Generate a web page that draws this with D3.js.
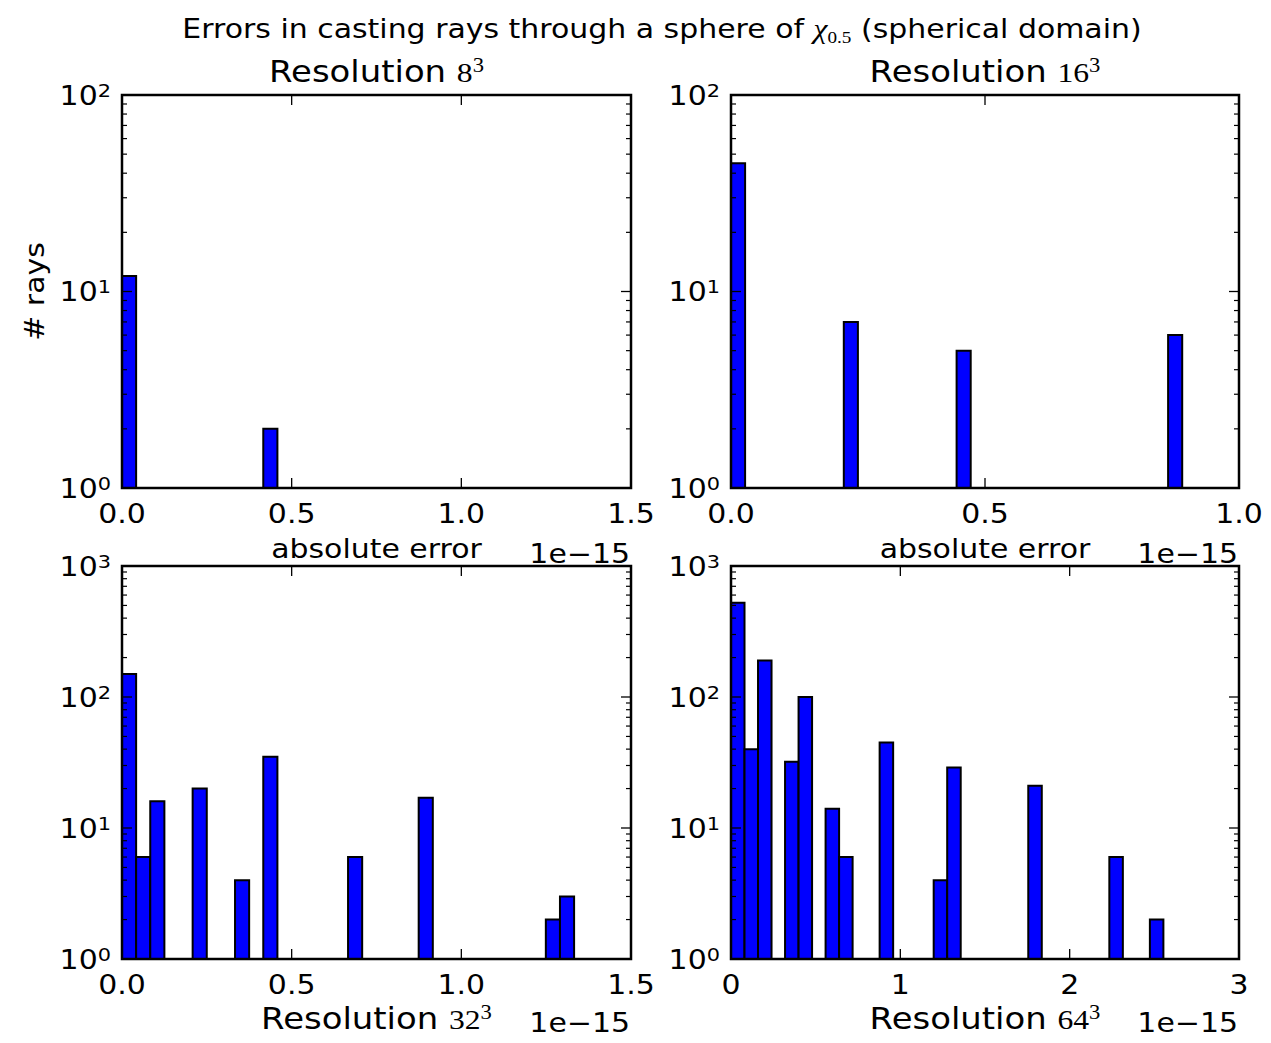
<!DOCTYPE html>
<html>
<head>
<meta charset="utf-8">
<script src="https://cdn.jsdelivr.net/npm/d3@7"></script>
<style>
  body { margin: 0; background: #fff; }
  text { font-family: "DejaVu Sans", sans-serif; fill: #000; }
</style>
</head>
<body>
<script>
// Ray-casting error histograms: counts per error bin (errors in units of 1e-15).
const resolutions = ["8", "16", "32", "64"];
const nBins = 32;
const maxError = [1.3323, 0.8882, 1.3323, 2.5535];

const binIndex8 = [0, 10, 21, 31];
const counts8 = [12, 2, 1, 1];
const binIndex16 = [0, 8, 16, 24, 31];
const counts16 = [45, 7, 5, 1, 6];
const binIndex32 = [0, 1, 2, 5, 8, 10, 16, 21, 30, 31];
const counts32 = [150, 6, 16, 20, 4, 35, 6, 17, 2, 3];
const binIndex64 = [0, 1, 2, 4, 5, 7, 8, 9, 10, 11, 15, 16, 18, 22, 28, 31];
const counts64 = [525, 40, 190, 32, 100, 14, 6, 1, 1, 45, 4, 29, 1, 21, 6, 2];

const xTicksHalf = [0, 0.5, 1.0, 1.5];
const xTicks16 = [0, 0.5, 1.0];
const xTicks64 = [0, 1, 2, 3];
const yTicksTop = [1, 10, 100];
const yTicksBottom = [1, 10, 100, 1000];

const W = 1271, H = 1043;
const SX = 1.13;          // horizontal text stretch
const FS = 26.5;          // tick / label size
const FT = 30;            // title size
const SERIF = "'Liberation Serif', 'DejaVu Serif', serif";

const svg = d3.select("body").append("svg").attr("width", W).attr("height", H);

function addText(g, x, y, anchor, size, parts, rotate) {
  const t = g.append("text")
    .attr("transform", `translate(${x},${y})` + (rotate ? ` rotate(${rotate})` : "") + ` scale(${SX},1)`)
    .attr("text-anchor", anchor)
    .style("font-size", size + "px");
  parts.forEach(p => {
    const s = t.append("tspan").text(p.t);
    if (p.size) s.style("font-size", p.size + "px");
    if (p.dy) s.attr("dy", p.dy);
    if (p.family) s.style("font-family", p.family);
    if (p.italic) s.style("font-style", "italic");
  });
  return t;
}

const panels = [
  { r: 0, bins: binIndex8,  counts: counts8,  xMax: 1.5, xTicks: xTicksHalf, fmt: d3.format(".1f"), yTicks: yTicksTop,    box: [122, 95, 631, 488] },
  { r: 1, bins: binIndex16, counts: counts16, xMax: 1.0, xTicks: xTicks16,   fmt: d3.format(".1f"), yTicks: yTicksTop,    box: [731, 95, 1239, 488] },
  { r: 2, bins: binIndex32, counts: counts32, xMax: 1.5, xTicks: xTicksHalf, fmt: d3.format(".1f"), yTicks: yTicksBottom, box: [122, 566, 631, 959] },
  { r: 3, bins: binIndex64, counts: counts64, xMax: 3,   xTicks: xTicks64,   fmt: d3.format("d"),   yTicks: yTicksBottom, box: [731, 566, 1239, 959] }
];

panels.forEach((p, i) => {
  const [x0, y0, x1, y1] = p.box;
  const g = svg.append("g");
  const xs = d3.scaleLinear().domain([0, p.xMax]).range([x0, x1]);
  const yMax = p.yTicks[p.yTicks.length - 1];
  const ys = d3.scaleLog().domain([1, yMax]).range([y1, y0]);
  const bw = maxError[p.r] / nBins;

  // bars
  const bars = p.bins.map((b, k) => ({ lo: b * bw, hi: (b + 1) * bw, n: p.counts[k] }));
  g.selectAll("path.bar").data(bars).enter().append("path")
    .attr("class", "bar")
    .attr("d", d => `M${xs(d.lo)},${ys(1)}V${ys(d.n)}H${xs(d.hi)}V${ys(1)}Z`)
    .attr("fill", "#0000ff")
    .attr("stroke", "#000")
    .attr("stroke-width", 2)
    .attr("stroke-linejoin", "miter");

  // x ticks (bottom & top, inward)
  p.xTicks.forEach(t => {
    const x = xs(t);
    g.append("line").attr("x1", x).attr("x2", x).attr("y1", y1).attr("y2", y1 - 10)
      .attr("stroke", "#000").attr("stroke-width", 1.3);
    g.append("line").attr("x1", x).attr("x2", x).attr("y1", y0).attr("y2", y0 + 10)
      .attr("stroke", "#000").attr("stroke-width", 1.3);
    addText(g, x, y1 + 35, "middle", FS, [{ t: p.fmt(t) }]);
  });

  // y ticks: majors and log minors on both sides
  const decades = Math.round(Math.log10(yMax));
  for (let k = 0; k < decades; k++) {
    for (let m = 2; m <= 9; m++) {
      const y = ys(m * Math.pow(10, k));
      g.append("line").attr("x1", x0).attr("x2", x0 + 5).attr("y1", y).attr("y2", y)
        .attr("stroke", "#000").attr("stroke-width", 1.2);
      g.append("line").attr("x1", x1).attr("x2", x1 - 5).attr("y1", y).attr("y2", y)
        .attr("stroke", "#000").attr("stroke-width", 1.2);
    }
  }
  p.yTicks.forEach(t => {
    const y = ys(t);
    g.append("line").attr("x1", x0).attr("x2", x0 + 10).attr("y1", y).attr("y2", y)
      .attr("stroke", "#000").attr("stroke-width", 1.3);
    g.append("line").attr("x1", x1).attr("x2", x1 - 10).attr("y1", y).attr("y2", y)
      .attr("stroke", "#000").attr("stroke-width", 1.3);
    addText(g, x0 - 11, y + 9.6, "end", FS,
      [{ t: "10" }, { t: String(Math.round(Math.log10(t))), size: 18.5, dy: -8 }]);
  });

  // frame
  g.append("rect").attr("x", x0).attr("y", y0).attr("width", x1 - x0).attr("height", y1 - y0)
    .attr("fill", "none").attr("stroke", "#000").attr("stroke-width", 2.5);

  // offset text
  addText(g, x1 - 1, y1 + (i < 2 ? 75 : 73), "end", FS, [{ t: "1e\u221215" }]);

  const cx = (x0 + x1) / 2;
  const resParts = [
    { t: "Resolution " },
    { t: resolutions[p.r], family: SERIF, size: 28 },
    { t: "3", family: SERIF, size: 20, dy: -10 }
  ];
  if (i < 2) {
    addText(g, cx, 82, "middle", FT, resParts);
    addText(g, cx, 558, "middle", FS, [{ t: "absolute error" }]);
  } else {
    addText(g, cx, 1029, "middle", FT, resParts);
  }
});

// y axis label
addText(svg, 35, 291.5, "middle", FS, [{ t: "# rays" }], -90).attr("dy", "0.35em");

// figure title
addText(svg, 662, 38, "middle", FS, [
  { t: "Errors in casting rays through a sphere of " },
  { t: "\u03c7", family: SERIF, italic: true, size: 28 },
  { t: "0.5", family: SERIF, size: 17, dy: 5 },
  { t: " (spherical domain)", dy: -5 }
]);
</script>
</body>
</html>
